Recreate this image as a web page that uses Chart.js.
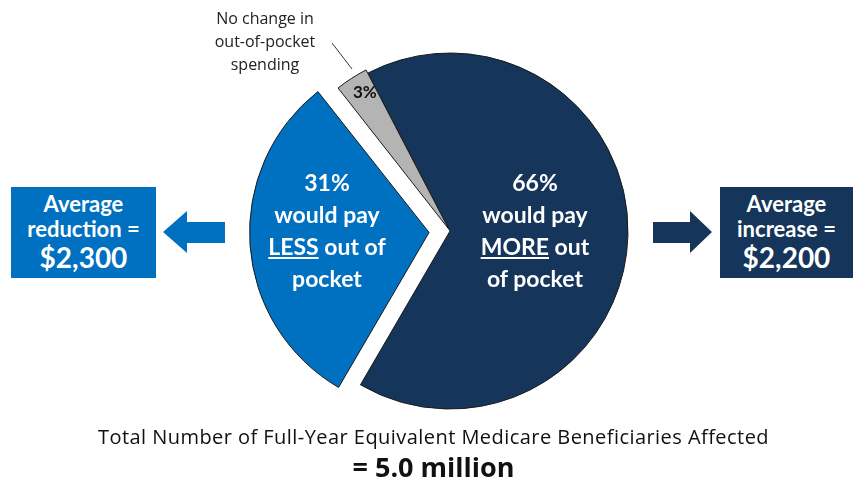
<!DOCTYPE html>
<html>
<head>
<meta charset="utf-8">
<script src="https://cdn.jsdelivr.net/npm/chart.js@4/dist/chart.umd.min.js"></script>
<style>
  body { margin: 0; background: #fff; }
  #wrap { position: relative; width: 857px; height: 483px; overflow: hidden; font-family: Lato, "Open Sans", sans-serif; }
  #myPie { position: absolute; left: 0; top: 0; }
  .lbl { position: absolute; text-align: center; white-space: nowrap; }
  .inside { color: #fff; font-weight: bold; font-size: 23px; line-height: 32px; width: 200px; }
  .box { position: absolute; color: #fff; text-align: center; font-weight: bold; }
  .box .s { font-size: 22px; line-height: 25px; }
  .box .b { font-size: 28px; line-height: 32px; }
  .reg { font-family: "Open Sans", sans-serif; }
</style>
</head>
<body>
<div id="wrap">
  <canvas id="myPie" width="857" height="483"></canvas>

  <div class="lbl inside" style="left:227px; top:166px;">31%<br>would pay<br><u>LESS</u> out of<br>pocket</div>
  <div class="lbl inside" style="left:435px; top:166px;">66%<br>would pay<br><u>MORE</u> out<br>of pocket</div>
  <div class="lbl" style="left:353px; top:81px; font-size:17px; font-weight:bold; color:#111;">3%</div>
  <div class="lbl reg" style="left:195px; top:7px; width:140px; font-size:16px; line-height:23px; color:#222;">No change in<br>out-of-pocket<br>spending</div>

  <div class="box" style="left:11px; top:187px; width:145px; height:91px; background:#0070C0;">
    <div class="s" style="margin-top:4px;">Average</div>
    <div class="s">reduction =</div>
    <div class="b">$2,300</div>
  </div>
  <div class="box" style="left:720px; top:187px; width:133px; height:91px; background:#15355A;">
    <div class="s" style="margin-top:4px;">Average</div>
    <div class="s">increase =</div>
    <div class="b">$2,200</div>
  </div>

  <svg style="position:absolute; left:0; top:0;" width="857" height="483">
    <line x1="332" y1="43" x2="352" y2="69" stroke="#333" stroke-width="1"/>
    <polygon points="163,232 187,211 187,222 225,222 225,243 187,243 187,253" fill="#0070C0"/>
    <polygon points="712,232 690,211 690,222 653,222 653,243 690,243 690,253" fill="#15355A"/>
  </svg>

  <div class="lbl reg" style="left:0; width:867px; top:423px; font-size:20px; letter-spacing:0.45px; color:#111;">Total Number of Full-Year Equivalent Medicare Beneficiaries Affected</div>
  <div class="lbl reg" style="left:0; width:867px; top:448px; font-size:27px; font-weight:bold; color:#111;">= 5.0 million</div>
</div>

<script>
var categories = ['would pay MORE out of pocket', 'would pay LESS out of pocket', 'No change in out-of-pocket spending'];
var shares = [66, 31, 3];

var ctx = document.getElementById('myPie');

var myChart = new Chart(ctx, {
  type: 'pie',
  data: {
    labels: categories,
    datasets: [{
      data: shares,
      backgroundColor: ['#15355A', '#0070C0', '#B4B4B4'],
      borderColor: '#1a1a1a',
      borderWidth: 1,
      offset: [0, 84, 8]
    }]
  },
  options: {
    responsive: false,
    animation: false,
    rotation: -27.4,
    radius: 178,
    clip: false,
    layout: { padding: { left: 270, right: 227, top: 51, bottom: 72 } },
    plugins: {
      legend: { display: false },
      tooltip: { enabled: false }
    }
  }
});
</script>
</body>
</html>
